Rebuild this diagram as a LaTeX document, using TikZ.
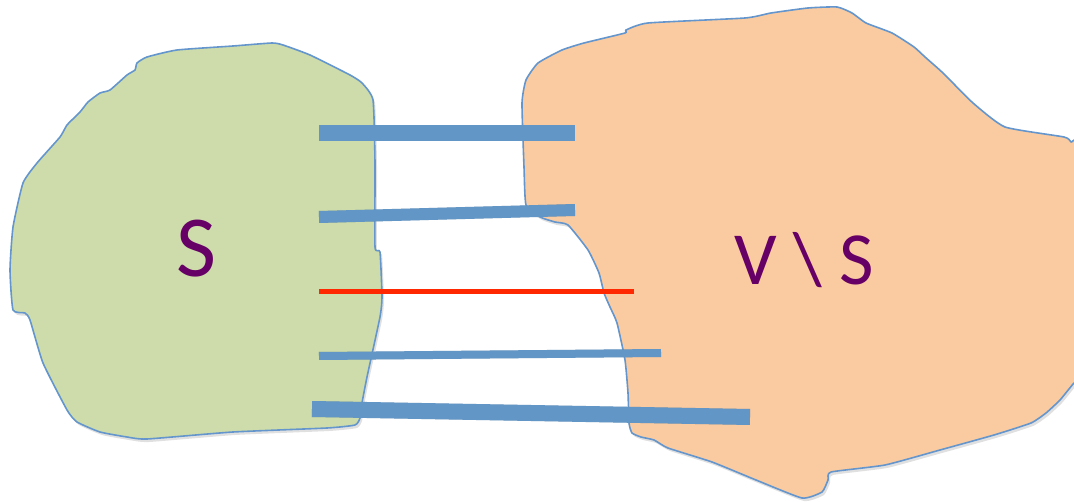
\documentclass[tikz,border=0pt]{standalone}
\usepackage{fontspec}
\setmainfont{Carlito}
\definecolor{setgreen}{RGB}{205,220,170}
\definecolor{setorange}{RGB}{250,203,160}
\definecolor{outlineblue}{RGB}{100,150,205}
\definecolor{barblue}{RGB}{97,150,199}
\definecolor{cutred}{RGB}{255,40,0}
\definecolor{labelpurple}{RGB}{102,0,102}
\begin{document}
\begin{tikzpicture}[x=1pt,y=-1pt,
  blob/.style={draw=outlineblue,line width=1.6pt,line join=round},
  blobshadow/.style={fill=black,opacity=0.12},
  edgebar/.style={draw=barblue},
  cutedge/.style={draw=cutred},
  barshadow/.style={draw=black,opacity=0.15},
  setlabel/.style={text=labelpurple,inner sep=0pt,anchor=base}]
\useasboundingbox (0,0) rectangle (1074,502);
\clip (0,0) rectangle (1074,502);
% shadows of blobs
\fill[blobshadow,xshift=2pt,yshift=-3pt] plot[smooth cycle,tension=0.3] coordinates {(272,43) (283,45) (310,55) (350,75) (362,83) (373,100) (375,163) (375,247) (380,252) (382,297) (380,317) (367,377) (362,403) (360,418) (355,425) (327,428) (233,432) (147,439) (127,437) (100,432) (77,422) (67,410) (43,363) (30,320) (25,313) (13,310) (10,270) (13,227) (23,183) (37,163) (60,137) (67,125) (80,112) (88,102) (100,93) (110,90) (127,75) (135,70) (137,63) (147,57) (177,50) (233,46)};
\fill[blobshadow,xshift=2pt,yshift=-3pt] plot[smooth cycle,tension=0.3] coordinates {(837,7) (852,13) (866,23) (892,33) (914,47) (925,57) (943,73) (973,103) (1005,127) (1064,137) (1071,142) (1080,150) (1080,380) (1074,383) (1060,400) (1046,413) (1031,423) (994,435) (940,450) (885,465) (831,472) (828,480) (822,492) (802,498) (756,480) (712,462) (668,448) (654,440) (641,437) (632,433) (629,423) (628,393) (625,360) (617,323) (610,307) (604,293) (599,273) (588,250) (568,225) (555,222) (540,217) (526,205) (524,167) (522,103) (526,80) (538,63) (562,50) (584,43) (625,33) (626,30) (648,23) (745,18) (771,13) (808,8)};
% S
\draw[blob,fill=setgreen] plot[smooth cycle,tension=0.3] coordinates {(272,43) (283,45) (310,55) (350,75) (362,83) (373,100) (375,163) (375,247) (380,252) (382,297) (380,317) (367,377) (362,403) (360,418) (355,425) (327,428) (233,432) (147,439) (127,437) (100,432) (77,422) (67,410) (43,363) (30,320) (25,313) (13,310) (10,270) (13,227) (23,183) (37,163) (60,137) (67,125) (80,112) (88,102) (100,93) (110,90) (127,75) (135,70) (137,63) (147,57) (177,50) (233,46)};
% V \ S
\draw[blob,fill=setorange] plot[smooth cycle,tension=0.3] coordinates {(837,7) (852,13) (866,23) (892,33) (914,47) (925,57) (943,73) (973,103) (1005,127) (1064,137) (1071,142) (1080,150) (1080,380) (1074,383) (1060,400) (1046,413) (1031,423) (994,435) (940,450) (885,465) (831,472) (828,480) (822,492) (802,498) (756,480) (712,462) (668,448) (654,440) (641,437) (632,433) (629,423) (628,393) (625,360) (617,323) (610,307) (604,293) (599,273) (588,250) (568,225) (555,222) (540,217) (526,205) (524,167) (522,103) (526,80) (538,63) (562,50) (584,43) (625,33) (626,30) (648,23) (745,18) (771,13) (808,8)};
% labels
\node[setlabel,font=\fontsize{87}{87}\selectfont] (sset) at (196,277) {S};
\node[setlabel,font=\fontsize{75}{75}\selectfont] (vset) at (804,285) {V \textbackslash{} S};
% edge end points
\coordinate (a1) at (319,133); \coordinate (b1) at (575,133);
\coordinate (a2) at (319,217); \coordinate (b2) at (575,210);
\coordinate (a3) at (319,292); \coordinate (b3) at (634,292);
\coordinate (a4) at (319,356); \coordinate (b4) at (661,353);
\coordinate (a5) at (312,409); \coordinate (b5) at (750,417);
% shadows of edges
\begin{scope}[xshift=2pt,yshift=-3pt]
\draw[barshadow,line width=16pt] (a1) -- (b1);
\draw[barshadow,line width=12pt] (a2) -- (b2);
\draw[barshadow,line width=5pt] (a3) -- (b3);
\draw[barshadow,line width=8pt] (a4) -- (b4);
\draw[barshadow,line width=16pt] (a5) -- (b5);
\end{scope}
% edges
\draw[edgebar,line width=16pt] (a1) -- (b1);
\draw[edgebar,line width=12pt] (a2) -- (b2);
\draw[cutedge,line width=5pt] (a3) -- (b3);
\draw[edgebar,line width=8pt] (a4) -- (b4);
\draw[edgebar,line width=16pt] (a5) -- (b5);
\end{tikzpicture}
\end{document}
